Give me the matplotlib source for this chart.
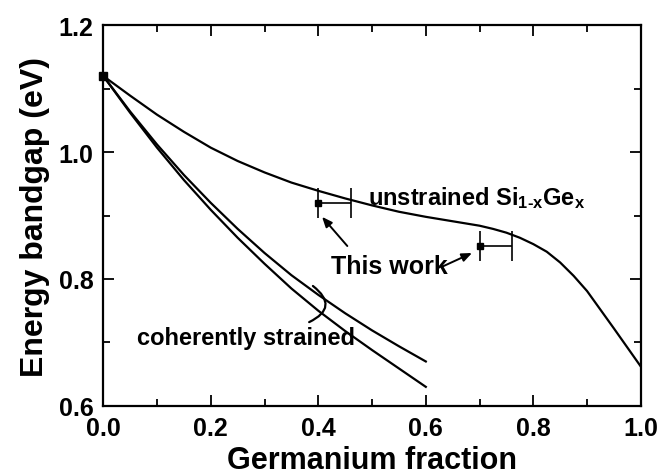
import matplotlib
matplotlib.use("Agg")
import matplotlib.pyplot as plt

# data
x_unstrained = [0.0, 0.05, 0.1, 0.15, 0.2, 0.25, 0.3, 0.35, 0.4, 0.45, 0.5, 0.55, 0.6,
                0.65, 0.7, 0.725, 0.75, 0.775, 0.8, 0.825, 0.85, 0.875, 0.9, 0.95, 1.0]
e_unstrained = [1.12, 1.089, 1.059, 1.032, 1.007, 0.986, 0.968, 0.952, 0.939, 0.927, 0.916,
                0.906, 0.898, 0.891, 0.884, 0.879, 0.873, 0.865, 0.855, 0.843, 0.826,
                0.805, 0.781, 0.722, 0.662]

x_strained = [0.0, 0.05, 0.1, 0.15, 0.2, 0.25, 0.3, 0.35, 0.4, 0.45, 0.5, 0.55, 0.6]
e_strained_a = [1.12, 1.064, 1.012, 0.964, 0.92, 0.879, 0.841, 0.806, 0.775, 0.746, 0.719, 0.694, 0.67]
e_strained_b = [1.12, 1.062, 1.007, 0.956, 0.909, 0.865, 0.824, 0.785, 0.75, 0.718, 0.688, 0.659, 0.63]

x_si = [0.0]
e_si = [1.12]
x_work = [0.4, 0.7]
e_work = [0.92, 0.852]
xerr_work = [0.06, 0.06]

FONT = "Liberation Sans"
plt.rcParams["font.family"] = [FONT, "DejaVu Sans"]
plt.rcParams["font.weight"] = "bold"
plt.rcParams["axes.labelweight"] = "bold"
plt.rcParams["mathtext.fontset"] = "custom"
plt.rcParams["mathtext.rm"] = FONT + ":bold"
plt.rcParams["mathtext.it"] = FONT + ":bold"
plt.rcParams["mathtext.bf"] = FONT + ":bold"

fig = plt.figure(figsize=(6.62, 4.77), dpi=100)
ax = fig.add_axes([0.156, 0.147, 0.812, 0.798])

lw = 1.6
ax.plot(x_unstrained, e_unstrained, color="black", lw=lw)
ax.plot(x_strained, e_strained_a, color="black", lw=lw)
ax.plot(x_strained, e_strained_b, color="black", lw=lw)
ax.plot(x_si, e_si, "s", color="black", ms=6, clip_on=False)
ax.errorbar(x_work, e_work, xerr=[[0, 0], xerr_work], fmt="s", color="black",
            ms=5, capsize=11, elinewidth=1.2, capthick=1.2)

# labels on the plot
ax.text(0.493, 0.918, "unstrained Si$_{1\\text{-}x}$Ge$_x$", fontsize=17,
        ha="left", va="baseline")
ax.text(0.532, 0.82, "This work", fontsize=18, ha="center", va="center")
ax.text(0.062, 0.698, "coherently strained", fontsize=17, ha="left", va="baseline")

arrow = dict(arrowstyle="-|>,head_length=0.6,head_width=0.25", color="black", lw=1.4,
             shrinkA=0, shrinkB=0)
ax.annotate("", xy=(0.407, 0.898), xytext=(0.454, 0.852), arrowprops=arrow)
ax.annotate("", xy=(0.686, 0.841), xytext=(0.632, 0.820), arrowprops=arrow)
# bracket joining the two strained curves
ax.annotate("", xy=(0.383, 0.732), xytext=(0.39, 0.789),
            arrowprops=dict(arrowstyle="-", color="black", lw=1.6, shrinkA=0, shrinkB=0,
                            connectionstyle="arc3,rad=-0.8"))

ax.set_xlim(0.0, 1.0)
ax.set_ylim(0.6, 1.2)
ax.set_xticks([0.0, 0.2, 0.4, 0.6, 0.8, 1.0])
ax.set_yticks([0.6, 0.8, 1.0, 1.2])
ax.set_xticks([0.1, 0.3, 0.5, 0.7, 0.9], minor=True)
ax.set_yticks([0.7, 0.9, 1.1], minor=True)
ax.tick_params(which="both", direction="in", top=True, right=True, width=1.3)
ax.tick_params(which="major", length=8, labelsize=18, pad=7)
ax.tick_params(which="minor", length=5)
for s in ax.spines.values():
    s.set_linewidth(1.6)

ax.set_xlabel("Germanium fraction", fontsize=22, labelpad=4)
ax.set_ylabel("Energy bandgap (eV)", fontsize=23, labelpad=6)

fig.savefig("out.png", dpi=100)
